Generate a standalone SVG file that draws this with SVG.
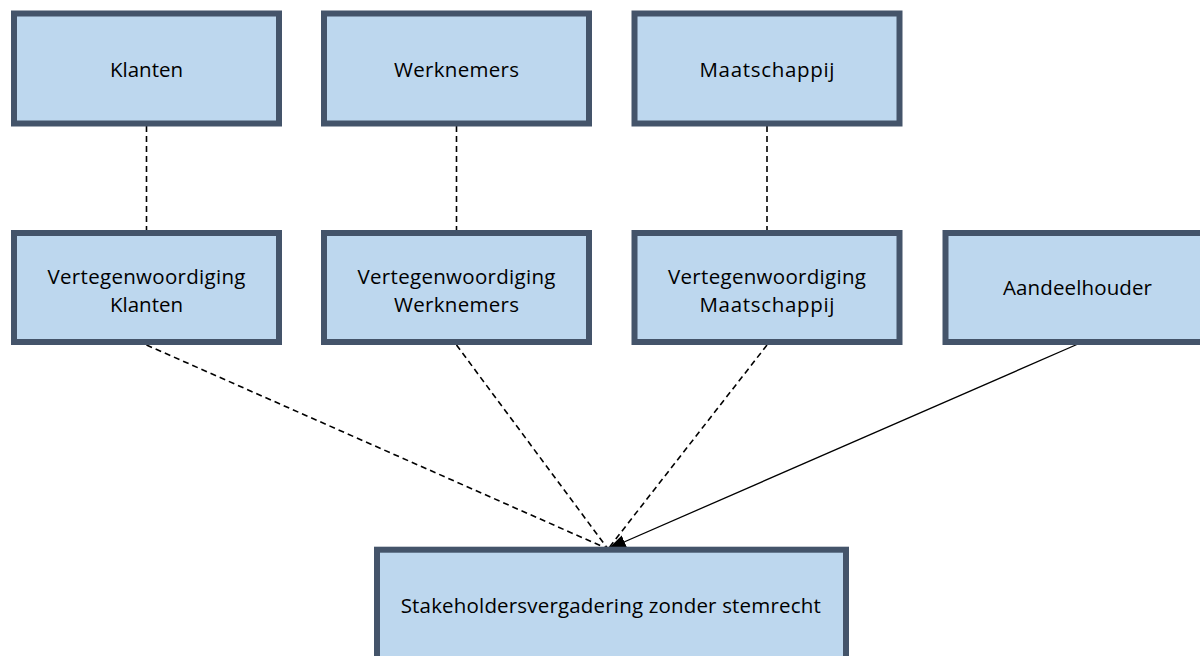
<svg xmlns="http://www.w3.org/2000/svg" width="1200" height="656" viewBox="0 0 1200 656">
  <style>
    .box { fill: #BDD7EE; stroke: #44546A; stroke-width: 6; }
    .lbl { font-family: "Open Sans", "Noto Sans", sans-serif; font-size: 20.5px; fill: #000; text-anchor: middle; }
    .dash { stroke: #000; stroke-width: 1.6; stroke-dasharray: 6 4; fill: none; }
    .solid { stroke: #000; stroke-width: 1.3; fill: none; }
  </style>
  <defs>
    <marker id="arrow" markerUnits="userSpaceOnUse" markerWidth="20" markerHeight="16" refX="18" refY="7" orient="auto">
      <path d="M0,0 L18,7 L0,14 z" fill="#000"/>
    </marker>
  </defs>
  <rect width="1200" height="656" fill="#fff"/>
  <g id="connectors">
    <line class="dash" x1="146.5" y1="126" x2="146.5" y2="231"/>
    <line class="dash" x1="456.5" y1="126" x2="456.5" y2="231"/>
    <line class="dash" x1="767" y1="126" x2="767" y2="231"/>
    <line class="dash" x1="146.5" y1="345" x2="608" y2="549"/>
    <line class="dash" x1="456.5" y1="345" x2="608" y2="549"/>
    <line class="dash" x1="767" y1="345" x2="608" y2="549"/>
    <line class="solid" x1="1078" y1="344" x2="608" y2="549" marker-end="url(#arrow)"/>
  </g>
  <g id="klanten">
    <rect class="box" x="14" y="13.5" width="265" height="110"/>
    <text class="lbl" x="146.5" y="77" textLength="73">Klanten</text>
  </g>
  <g id="werknemers">
    <rect class="box" x="324" y="13.5" width="265" height="110"/>
    <text class="lbl" x="456.5" y="77" textLength="125">Werknemers</text>
  </g>
  <g id="maatschappij">
    <rect class="box" x="634.5" y="13.5" width="265" height="110"/>
    <text class="lbl" x="767" y="77" textLength="135">Maatschappij</text>
  </g>
  <g id="vert-klanten">
    <rect class="box" x="14" y="233" width="265" height="109"/>
    <text class="lbl" x="146.5" y="284" textLength="198">Vertegenwoordiging</text>
    <text class="lbl" x="146.5" y="311.5" textLength="73">Klanten</text>
  </g>
  <g id="vert-werknemers">
    <rect class="box" x="324" y="233" width="265" height="109"/>
    <text class="lbl" x="456.5" y="284" textLength="198">Vertegenwoordiging</text>
    <text class="lbl" x="456.5" y="311.5" textLength="125">Werknemers</text>
  </g>
  <g id="vert-maatschappij">
    <rect class="box" x="634.5" y="233" width="265" height="109"/>
    <text class="lbl" x="767" y="284" textLength="198">Vertegenwoordiging</text>
    <text class="lbl" x="767" y="311.5" textLength="135">Maatschappij</text>
  </g>
  <g id="aandeelhouder">
    <rect class="box" x="945.5" y="233" width="265" height="109"/>
    <text class="lbl" x="1077.5" y="295" textLength="149">Aandeelhouder</text>
  </g>
  <g id="stakeholdersvergadering">
    <rect class="box" x="377" y="549.7" width="469" height="120"/>
    <text class="lbl" x="610.7" y="612.7" textLength="420">Stakeholdersvergadering zonder stemrecht</text>
  </g>
</svg>
